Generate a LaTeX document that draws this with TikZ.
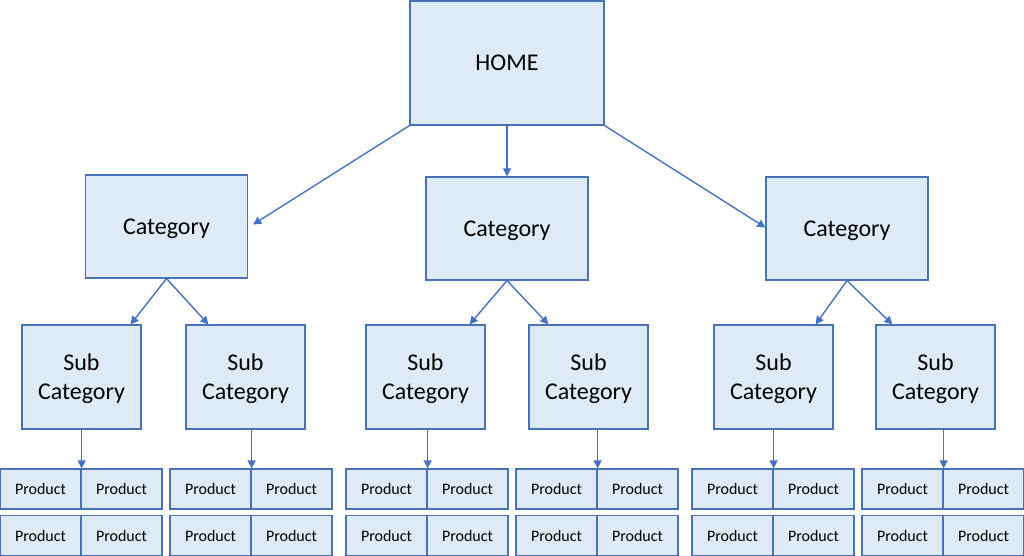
\documentclass[tikz,border=0pt]{standalone}
\usepackage{fontspec}
\setmainfont{Carlito}
\usetikzlibrary{arrows.meta,calc}
\definecolor{boxfill}{HTML}{DEEAF6}
\definecolor{boxline}{HTML}{4A72B8}
\definecolor{arrowc}{HTML}{4472C4}
\begin{document}
\begin{tikzpicture}[x=1pt,y=-1pt,
  box/.style={draw=boxline,fill=boxfill,line width=1.2pt,inner sep=0pt,align=center,text depth=0pt,font=\fontsize{24}{29}\selectfont},
  homebox/.style={box,minimum width=194pt,minimum height=124pt},
  catbox/.style={box,minimum width=162pt,minimum height=103pt},
  subbox/.style={box,minimum width=119pt,minimum height=104pt},
  prodbox/.style={draw=boxline,fill=boxfill,line width=1.2pt,inner sep=0pt,minimum width=81pt,minimum height=40pt,font=\fontsize{16}{18}\selectfont},
  arr/.style={draw=arrowc,line width=1.4pt,-{Triangle[length=8pt,width=8pt]}}]
\useasboundingbox (0,0) rectangle (1024,556);

\node[homebox] (home) at (507,63) {HOME};
\node[catbox] (catL) at (166.5,226.5) {Category};
\node[catbox] (catM) at (507,228.5) {Category};
\node[catbox] (catR) at (847,228.5) {Category};

\node[subbox] (sL1) at (81.5,377) {Sub\\Category};
\node[subbox] (sL2) at (245.5,377) {Sub\\Category};
\node[subbox] (sM1) at (425.5,377) {Sub\\Category};
\node[subbox] (sM2) at (588.5,377) {Sub\\Category};
\node[subbox] (sR1) at (773.5,377) {Sub\\Category};
\node[subbox] (sR2) at (935.5,377) {Sub\\Category};

% product grids
\foreach \g/\x in {L1/0,L2/170,M1/346,M2/516,R1/692,R2/862}{
  \node[prodbox] (p\g a) at (\x+40.5,489) {Product};
  \node[prodbox] (p\g b) at (\x+121.5,489) {Product};
  \node[prodbox] (p\g c) at (\x+40.5,535.5) {Product};
  \node[prodbox] (p\g d) at (\x+121.5,535.5) {Product};
}

% arrows from home
\draw[arr] (home.south west) -- ([xshift=5pt,yshift=2pt]catL.east);
\draw[arr] (home.south) -- (catM.north);
\draw[arr] (home.south east) -- ([yshift=1pt]catR.west);

% arrows category -> sub
\draw[arr] (catL.south) -- ([xshift=-11pt]sL1.north east);
\draw[arr] (catL.south) -- ([xshift=23pt]sL2.north west);
\draw[arr] (catM.south) -- ([xshift=-16pt]sM1.north east);
\draw[arr] (catM.south) -- ([xshift=20pt]sM2.north west);
\draw[arr] (catR.south) -- ([xshift=-18pt]sR1.north east);
\draw[arr] (catR.south) -- ([xshift=17pt]sR2.north west);

% arrows sub -> products
\foreach \g in {L1,L2,M1,M2,R1,R2}{
  \draw[arr] (s\g.south -| p\g a.north east) -- (p\g a.north east);
}
\end{tikzpicture}
\end{document}
